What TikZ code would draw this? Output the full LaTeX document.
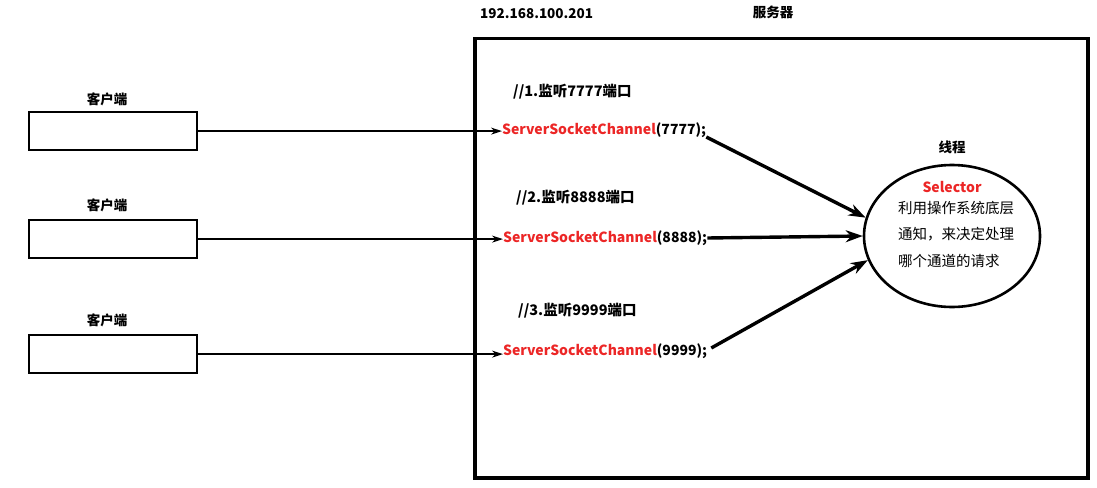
\documentclass[tikz,border=0pt]{standalone}
\usepackage{fontspec}
\setmainfont{Noto Sans CJK SC}
\newfontfamily\cjk{Noto Sans CJK SC}
\usetikzlibrary{arrows.meta,shapes.geometric}
\definecolor{redtxt}{RGB}{236,38,38}
\tikzset{
  client/.style={draw,line width=2.2pt,minimum width=168pt,minimum height=38pt,inner sep=0pt},
  lbl/.style={font=\fontsize{13.5}{15}\selectfont\bfseries,inner sep=0pt},
  cmt/.style={font=\fontsize{14.5}{16}\selectfont\bfseries,inner sep=0pt,anchor=west},
  code/.style={font=\fontsize{14}{16}\selectfont\bfseries,inner sep=0pt,anchor=west},
  thin/.style={line width=1.6pt,-{Stealth[length=11pt,width=7pt]}},
  thick/.style={line width=3.4pt,-{Stealth[length=17pt,width=12pt]}},
  body/.style={font=\fontsize{14.5}{26.5}\selectfont,inner sep=0pt,align=left}
}
\begin{document}
\begin{tikzpicture}[x=1pt,y=-1pt]
\useasboundingbox[fill=white] (0,0) rectangle (1097,487);
% server
\node[draw,line width=3.5pt,minimum width=613pt,minimum height=439pt,inner sep=0pt,anchor=north west] (server) at (473,37) {};
\node[lbl,anchor=west] (ip) at (480,14) {192.168.100.201};
\node[lbl] (srvlbl) at (773,12) {服务器};
% clients
\node[client,anchor=north west] (c1) at (28,111) {};
\node[client,anchor=north west] (c2) at (28,219) {};
\node[client,anchor=north west] (c3) at (28,334) {};
\node[lbl] (l1) at (107,99) {客户端};
\node[lbl] (l2) at (107,205) {客户端};
\node[lbl] (l3) at (107,320) {客户端};
% comments
\node[cmt] (m1) at (513,92) {//1.监听7777端口};
\node[cmt] (m2) at (516,198) {//2.监听8888端口};
\node[cmt] (m3) at (518,311) {//3.监听9999端口};
% channels
\node[code] (s1) at (502,130) {\textcolor{redtxt}{ServerSocketChannel}(7777);};
\node[code] (s2) at (503,238) {\textcolor{redtxt}{ServerSocketChannel}(8888);};
\node[code] (s3) at (503,351) {\textcolor{redtxt}{ServerSocketChannel}(9999);};
% selector
\node[draw,ellipse,line width=2.6pt,minimum width=176pt,minimum height=142pt,inner sep=0pt] (sel) at (952,236) {};
\node[lbl] (th) at (952,147) {线程};
\node[font=\fontsize{14}{16}\selectfont\bfseries,text=redtxt,inner sep=0pt] (selt) at (952,187) {Selector};
\node[body,anchor=north west] (desc) at (898,201) {利用操作系统底层\\通知，来决定处理\\哪个通道的请求};
% arrows
\draw[thin] (c1.east) -- (c1.east -| s1.west);
\draw[thin] (c2.east) -- (c2.east -| s2.west);
\draw[thin] (c3.east) -- (c3.east -| s3.west);
\draw[thick] (s1.east)++(0,7) coordinate (a1) -- (sel.168);
\draw[thick] (s2.east) -- (sel.west);
\draw[thick] (s3.east)++(4,-3) coordinate (a3) -- (sel.196);
\end{tikzpicture}
\end{document}
